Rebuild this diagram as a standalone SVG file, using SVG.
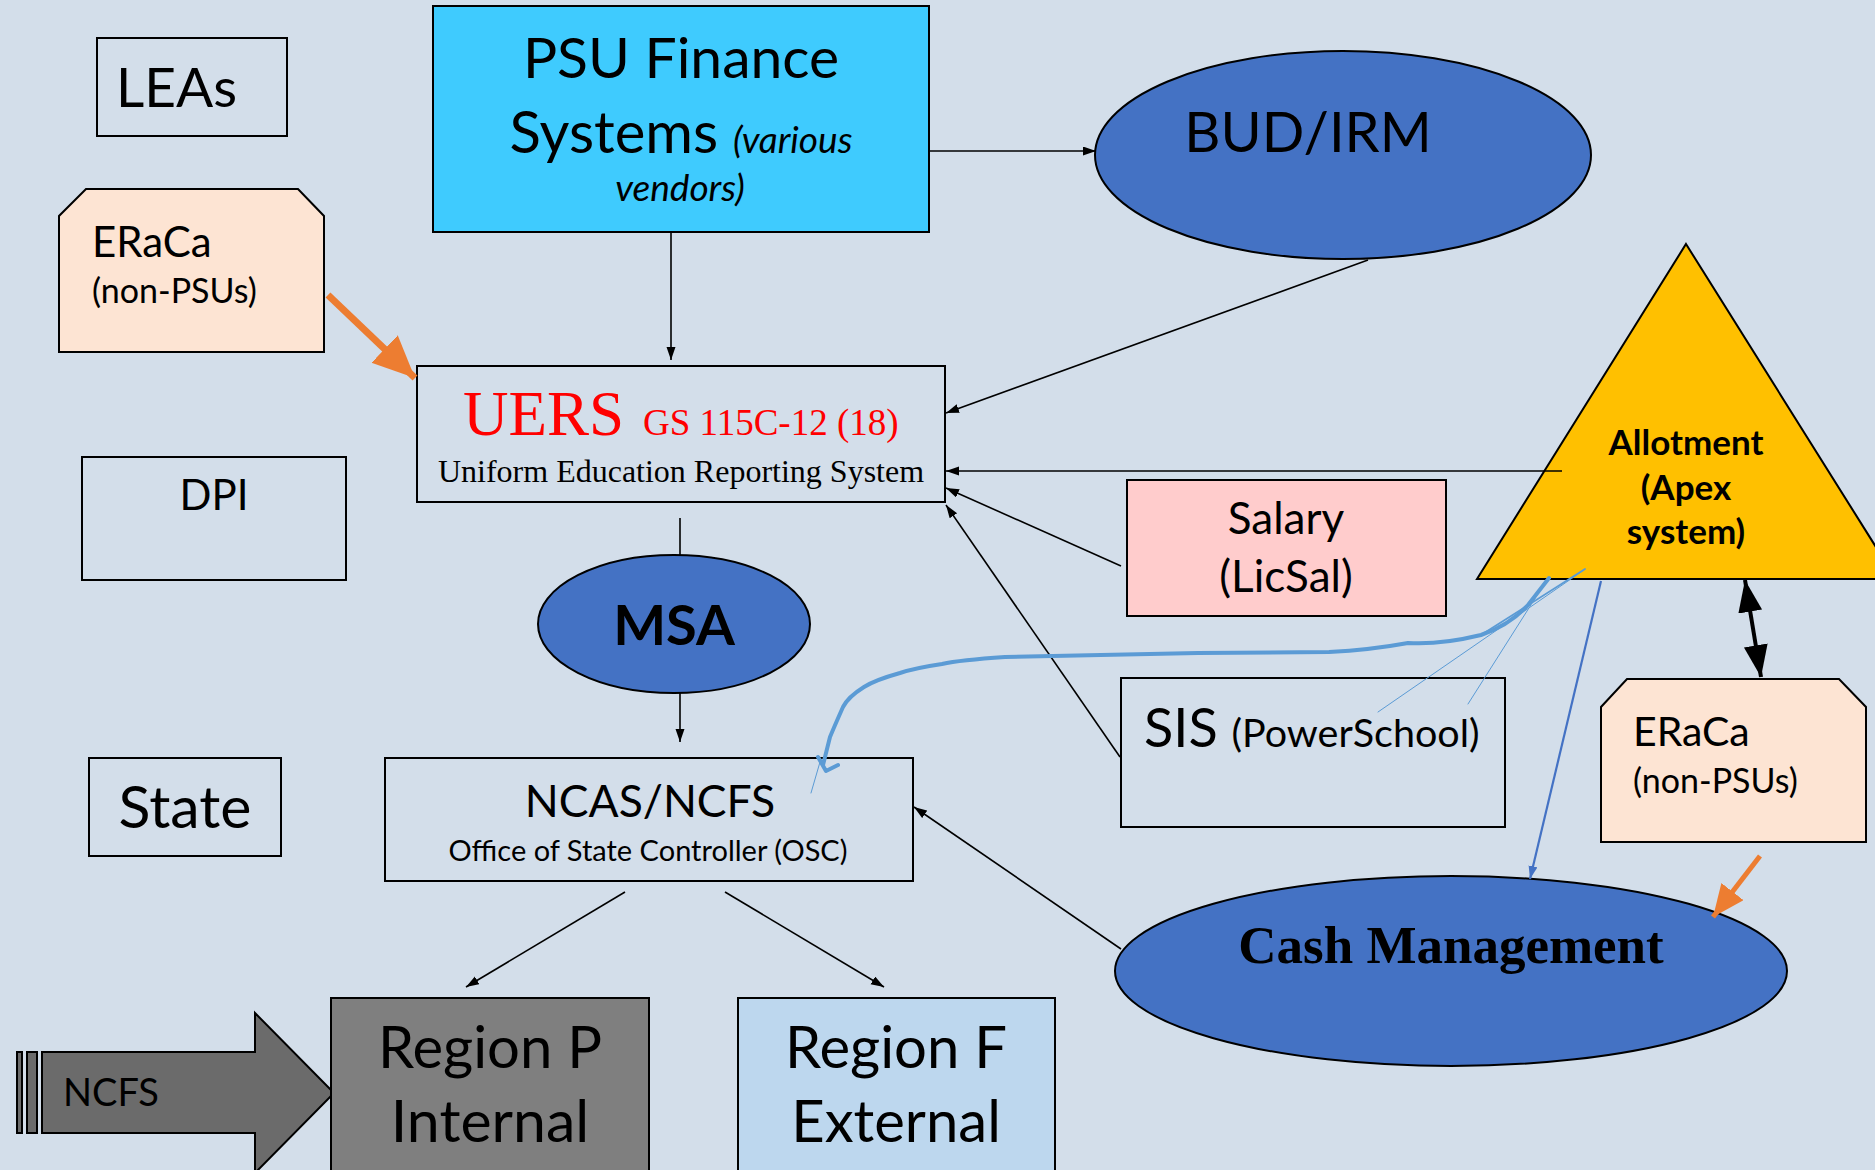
<svg xmlns="http://www.w3.org/2000/svg" width="1875" height="1170" viewBox="0 0 1875 1170">
<defs>
<style>
.bx{stroke:#000;stroke-width:2}
.ln{stroke:#000;stroke-width:1.6;fill:none}
.cal{font-family:Lato,"Open Sans",sans-serif;fill:#000}
.tms{font-family:"Liberation Serif","Times New Roman",serif}
.blu{stroke:#5B9BD5;fill:none;stroke-linecap:round;stroke-linejoin:round}
</style>
<marker id="ah" markerUnits="userSpaceOnUse" markerWidth="14" markerHeight="10" refX="13" refY="4.5" orient="auto"><path d="M0,0 L13,4.5 L0,9 z" fill="#000"/></marker>
<marker id="ahb" markerUnits="userSpaceOnUse" markerWidth="14" markerHeight="10" refX="13" refY="4.5" orient="auto"><path d="M0,0 L13,4.5 L0,9 z" fill="#4472C4"/></marker>
<marker id="aho" markerUnits="userSpaceOnUse" markerWidth="44" markerHeight="40" refX="42" refY="19" orient="auto"><path d="M0,0 L42,19 L0,38 z" fill="#ED7D31"/></marker>
<marker id="aho2" markerUnits="userSpaceOnUse" markerWidth="34" markerHeight="30" refX="32" refY="14" orient="auto"><path d="M0,0 L32,14 L0,28 z" fill="#ED7D31"/></marker>
<marker id="ahk" markerUnits="userSpaceOnUse" markerWidth="34" markerHeight="26" refX="32" refY="12" orient="auto-start-reverse"><path d="M0,0 L32,12 L0,24 z" fill="#000"/></marker>
</defs>
<rect x="0" y="0" width="1875" height="1170" fill="#D3DEEA"/>

<g id="leas"><rect class="bx" x="97" y="38" width="190" height="98" fill="none"/><text class="cal" x="116" y="107" font-size="55">LEAs</text></g>

<g id="psu"><rect class="bx" x="433" y="6" width="496" height="226" fill="#3FCBFE"/>
<text class="cal" x="681" y="78" font-size="57" text-anchor="middle">PSU Finance</text>
<text class="cal" x="681" y="153" text-anchor="middle"><tspan font-size="58">Systems </tspan><tspan font-size="37" font-style="italic">(various</tspan></text>
<text class="cal" x="680" y="201" font-size="37" font-style="italic" text-anchor="middle">vendors)</text></g>

<g id="budirm"><ellipse class="bx" cx="1343" cy="155" rx="248" ry="104" fill="#4472C4"/><text class="cal" x="1308" y="152" font-size="56" text-anchor="middle">BUD/IRM</text></g>

<g id="eraca-left"><polygon class="bx" points="86,189 298,189 324,216 324,352 59,352 59,216" fill="#FDE4D3"/>
<text class="cal" x="92" y="257" font-size="42">ERaCa</text><text class="cal" x="92" y="303" font-size="34">(non-PSUs)</text></g>

<g id="uers"><rect class="bx" x="417" y="366" width="528" height="136" fill="none"/>
<text class="tms" x="463" y="435" fill="#FF0000"><tspan font-size="63">UERS</tspan><tspan x="643" font-size="37">GS 115C-12 (18)</tspan></text>
<text class="tms" x="681" y="482" font-size="32" fill="#000" text-anchor="middle">Uniform Education Reporting System</text></g>

<g id="dpi"><rect class="bx" x="82" y="457" width="264" height="123" fill="none"/><text class="cal" x="214" y="510" font-size="42" text-anchor="middle">DPI</text></g>

<g id="msa"><ellipse class="bx" cx="674" cy="624" rx="136" ry="69" fill="#4472C4"/><text class="cal" x="674" y="645" font-size="56" font-weight="bold" text-anchor="middle">MSA</text></g>

<g id="state"><rect class="bx" x="89" y="758" width="192" height="98" fill="none"/><text class="cal" x="185" y="828" font-size="59" text-anchor="middle">State</text></g>

<g id="ncas"><rect class="bx" x="385" y="758" width="528" height="123" fill="none"/>
<text class="cal" x="650" y="817" font-size="44.5" text-anchor="middle">NCAS/NCFS</text>
<text class="cal" x="648" y="861" font-size="29" text-anchor="middle">Office of State Controller (OSC)</text></g>

<g id="salary"><rect class="bx" x="1127" y="480" width="319" height="136" fill="#FFCCCC"/>
<text class="cal" x="1286" y="534" font-size="44" text-anchor="middle">Salary</text>
<text class="cal" x="1286" y="592" font-size="44" text-anchor="middle">(LicSal)</text></g>

<g id="allotment"><polygon class="bx" points="1686,244 1896,579 1477,579" fill="#FFC000"/>
<text class="cal" x="1686" y="455" font-size="35" font-weight="bold" text-anchor="middle">Allotment</text>
<text class="cal" x="1686" y="500" font-size="35" font-weight="bold" text-anchor="middle">(Apex</text>
<text class="cal" x="1686" y="544" font-size="35" font-weight="bold" text-anchor="middle">system)</text></g>

<g id="sis"><rect class="bx" x="1121" y="678" width="384" height="149" fill="none"/>
<text class="cal" x="1144" y="747"><tspan font-size="54">SIS </tspan><tspan font-size="39.5">(PowerSchool)</tspan></text></g>

<g id="eraca-right"><polygon class="bx" points="1627,679 1839,679 1866,707 1866,842 1601,842 1601,707" fill="#FDE4D3"/>
<text class="cal" x="1633" y="746" font-size="41">ERaCa</text><text class="cal" x="1633" y="793" font-size="34">(non-PSUs)</text></g>

<g id="cash"><ellipse class="bx" cx="1451" cy="971" rx="336" ry="95" fill="#4472C4"/>
<text class="tms" x="1451" y="963" font-size="53" font-weight="bold" fill="#000" text-anchor="middle">Cash Management</text></g>

<g id="ncfs"><rect class="bx" x="17" y="1052" width="5" height="81" fill="#6B6B6B"/><rect class="bx" x="27" y="1052" width="10" height="81" fill="#6B6B6B"/>
<polygon class="bx" points="42,1052 255,1052 255,1013 334,1093 255,1173 255,1133 42,1133" fill="#6B6B6B"/>
<text class="cal" x="63" y="1106" font-size="38">NCFS</text></g>

<g id="region-p"><rect class="bx" x="331" y="998" width="318" height="200" fill="#7F7F7F"/>
<text class="cal" x="490" y="1068" font-size="58" text-anchor="middle">Region P</text>
<text class="cal" x="490" y="1142" font-size="59" text-anchor="middle">Internal</text></g>

<g id="region-f"><rect class="bx" x="738" y="998" width="317" height="200" fill="#BDD7EE"/>
<text class="cal" x="896" y="1068" font-size="58" text-anchor="middle">Region F</text>
<text class="cal" x="896" y="1142" font-size="58" text-anchor="middle">External</text></g>

<g id="connectors">
<line class="ln" x1="929" y1="151" x2="1096" y2="151" marker-end="url(#ah)"/>
<line class="ln" x1="671" y1="233" x2="671" y2="360" marker-end="url(#ah)"/>
<line class="ln" x1="1368" y1="260" x2="946" y2="413" marker-end="url(#ah)"/>
<line class="ln" x1="1562" y1="471" x2="946" y2="471" marker-end="url(#ah)"/>
<line class="ln" x1="1121" y1="566" x2="946" y2="488" marker-end="url(#ah)"/>
<line class="ln" x1="1120" y1="757" x2="946" y2="505" marker-end="url(#ah)"/>
<line class="ln" x1="680" y1="518" x2="680" y2="555"/>
<line class="ln" x1="680" y1="692" x2="680" y2="742" marker-end="url(#ah)"/>
<line class="ln" x1="625" y1="892" x2="466" y2="987" marker-end="url(#ah)"/>
<line class="ln" x1="725" y1="892" x2="884" y2="987" marker-end="url(#ah)"/>
<line class="ln" x1="1121" y1="949" x2="914" y2="807" marker-end="url(#ah)"/>
<line x1="1601" y1="581" x2="1530" y2="879" stroke="#4472C4" stroke-width="2.2" marker-end="url(#ahb)"/>
<line x1="328" y1="295" x2="415" y2="378" stroke="#ED7D31" stroke-width="7" marker-end="url(#aho)"/>
<line x1="1760" y1="856" x2="1713" y2="917" stroke="#ED7D31" stroke-width="5" marker-end="url(#aho2)"/>
<line x1="1745" y1="580" x2="1761" y2="677" stroke="#000" stroke-width="4" marker-start="url(#ahk)" marker-end="url(#ahk)"/>
<path class="blu" stroke-width="4" d="M1549,578 L1528,605 Q1510,625 1481,635 Q1440,645 1408,643 Q1370,650 1329,652 L1198,653 L1005,657 Q960,660 942,664 Q915,668 900,673 Q875,680 864,687 Q848,697 843,707 Q835,725 830,737 L823,765 L818,757 L826,771 L838,765"/>
<path class="blu" stroke-width="1.8" d="M1585,569 L1481,635"/>
<path class="blu" stroke-width="1" d="M1378,712 L1584,570 M1468,704 L1548,578 M820,762 L811,793"/>
</g>
</svg>
